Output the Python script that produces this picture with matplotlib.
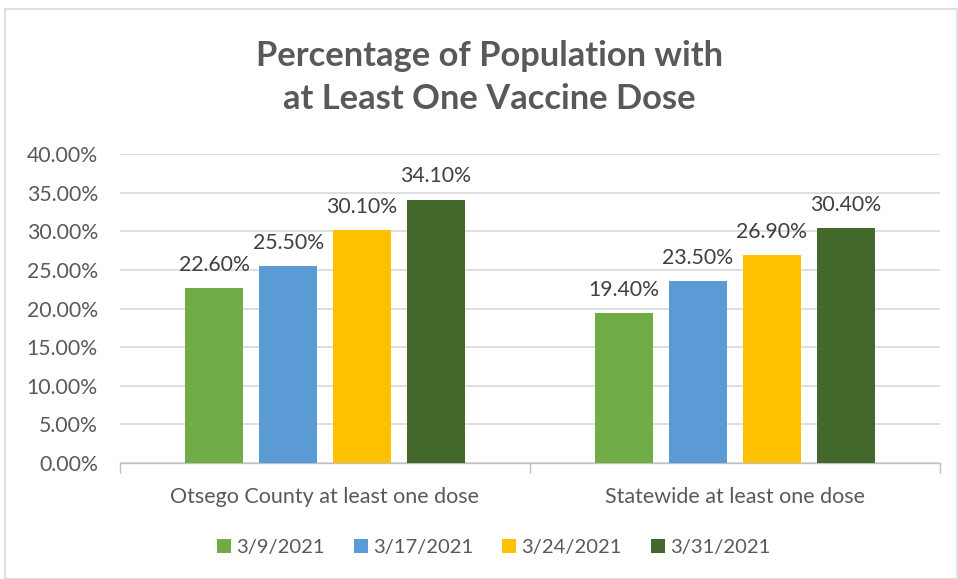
import matplotlib.pyplot as plt
from matplotlib.patches import Rectangle
import numpy as np

categories = ['Otsego County at least one dose', 'Statewide at least one dose']
dates = ['3/9/2021', '3/17/2021', '3/24/2021', '3/31/2021']
d0309 = [22.6, 19.4]
d0317 = [25.5, 23.5]
d0324 = [30.1, 26.9]
d0331 = [34.1, 30.4]
series = [d0309, d0317, d0324, d0331]
colors = ['#70AD47', '#5B9BD5', '#FFC000', '#43682B']

plt.rcParams['font.family'] = ['Lato', 'DejaVu Sans']

fig = plt.figure(figsize=(9.58, 5.79), dpi=100)
ax = fig.add_axes([0.1253, 0.2003, 0.8557, 0.5337])

x = np.arange(len(categories))
step = 0.18
width = 0.1415
for i, (vals, c, lab) in enumerate(zip(series, colors, dates)):
    pos = x + (i - 1.5) * step
    ax.bar(pos, vals, width, color=c, label=lab, zorder=3)
    for p, v in zip(pos, vals):
        ax.text(p, v + 1.7, '%.2f%%' % v, ha='center', va='bottom',
                fontsize=15.3, color='#404040')

ax.set_xlim(-0.5, 1.5)
ax.set_ylim(0, 40)
ax.set_yticks(np.arange(0, 41, 5))
ax.set_yticklabels(['%.2f%%' % v for v in np.arange(0, 41, 5)])
ax.tick_params(axis='y', length=0, labelsize=15.3, labelcolor='#595959', pad=16)
ax.yaxis.grid(True, color='#D9D9D9', linewidth=1.2, zorder=0)

ax.set_xticks([-0.5, 0.5, 1.5])
ax.set_xticklabels([])
ax.set_xticks(x, minor=True)
ax.set_xticklabels(categories, minor=True)
ax.tick_params(axis='x', which='major', length=7, color='#BFBFBF', width=1)
ax.tick_params(axis='x', which='minor', length=0, labelsize=15.5,
               labelcolor='#595959', pad=17)

for s in ['top', 'right', 'left']:
    ax.spines[s].set_visible(False)
ax.spines['bottom'].set_color('#BFBFBF')
ax.spines['bottom'].set_linewidth(1)

fig.text(0.511, 0.866, 'Percentage of Population with\nat Least One Vaccine Dose',
         ha='center', va='center', fontsize=24.8, fontweight='bold',
         color='#595959', linespacing=1.45)

fig.legend(loc='center', bbox_to_anchor=(0.515, 0.055), ncol=4, frameon=False,
           fontsize=14.5, labelcolor='#595959', handlelength=0.7,
           handleheight=0.7, handletextpad=0.25, columnspacing=1.45)

fig.patches.append(Rectangle((5 / 958, 0), 952 / 958, 1 - 9 / 579,
                             transform=fig.transFigure, fill=False,
                             edgecolor='#D9D9D9', linewidth=1.2))

fig.savefig('out.png', dpi=100)
